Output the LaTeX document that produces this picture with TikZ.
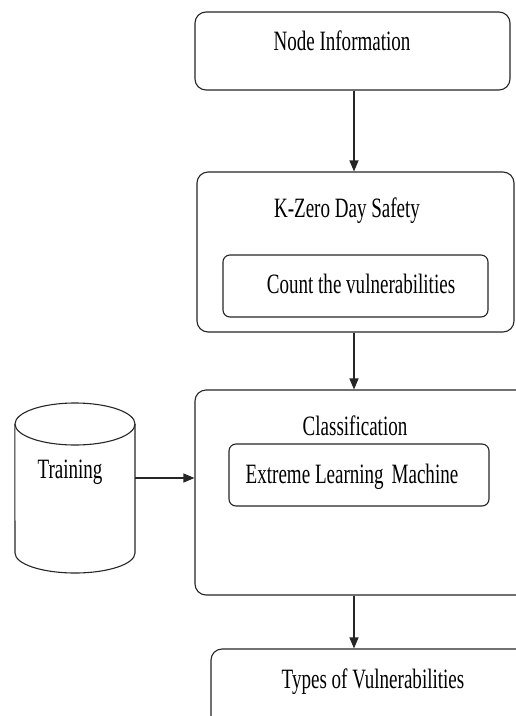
\documentclass[tikz,border=0pt]{standalone}
\usepackage{fontspec}
\setmainfont{Liberation Serif}
\usetikzlibrary{arrows.meta}
\newcommand{\cond}[1]{\scalebox{0.68}[1]{#1}}
\tikzset{
  box/.style={draw=black!85, line width=1.1pt, rounded corners=11pt},
  ibox/.style={draw=black!85, line width=1.1pt, rounded corners=7pt},
  txt/.style={anchor=base, inner sep=0pt, font=\fontsize{28}{30}\selectfont},
  arr/.style={draw=black!85, line width=1.1pt, -{Triangle[length=11pt,width=9pt]}}
}
\begin{document}
\begin{tikzpicture}[x=1pt,y=-1pt]
\useasboundingbox (0,0) rectangle (516,716);
\fill[white] (0,0) rectangle (516,716);
\clip (0,0) rectangle (516,716);
% boxes
\node[box, minimum width=315pt, minimum height=78pt] (info) at (352.5,51) {};
\node[box, minimum width=317pt, minimum height=160pt] (kzero) at (355.5,252) {};
\node[ibox, minimum width=265pt, minimum height=62pt] (count) at (355.5,286) {};
\node[box, minimum width=335pt, minimum height=205pt] (class) at (362.5,492.5) {};
\node[ibox, minimum width=260pt, minimum height=62pt] (elm) at (359,475) {};
\node[box, minimum width=330pt, minimum height=91pt] (types) at (376,694.5) {};
% texts
\node[txt] (tinfo) at (342,50) {\cond{Node Information}};
\node[txt] (tkzero) at (347,217) {\cond{K-Zero Day Safety}};
\node[txt] (tcount) at (361,293) {\cond{Count the vulnerabilities}};
\node[txt] (tclass) at (355,435) {\cond{Classification}};
\node[txt] (telm) at (352,483) {\cond{Extreme Learning\, Machine}};
\node[txt] (ttypes) at (373,688) {\cond{Types of Vulnerabilities}};
% training cylinder
\node[minimum width=120pt, minimum height=170pt, inner sep=0pt] (training) at (75,488) {};
\draw[draw=black!85, line width=1.1pt]
  (training.north west) ++(0,21) coordinate (cyl) -- (15,553)
  arc[start angle=180, end angle=360, x radius=60pt, y radius=20pt]
  -- (135,424);
\draw[draw=black!85, line width=1.1pt] (75,424) ellipse[x radius=60pt, y radius=21pt];
\node[txt] (ttrain) at (70,478) {\cond{Training}};
% connectors
\coordinate (xa) at (354,0);
\draw[arr] (info.south -| xa) -- (kzero.north -| xa);
\draw[arr] (kzero.south -| xa) -- (class.north -| xa);
\draw[arr] (class.south -| xa) -- (types.north -| xa);
\draw[arr] ([yshift=10pt]training.east) -- ([yshift=10pt]training.east -| class.west);
\end{tikzpicture}
\end{document}
